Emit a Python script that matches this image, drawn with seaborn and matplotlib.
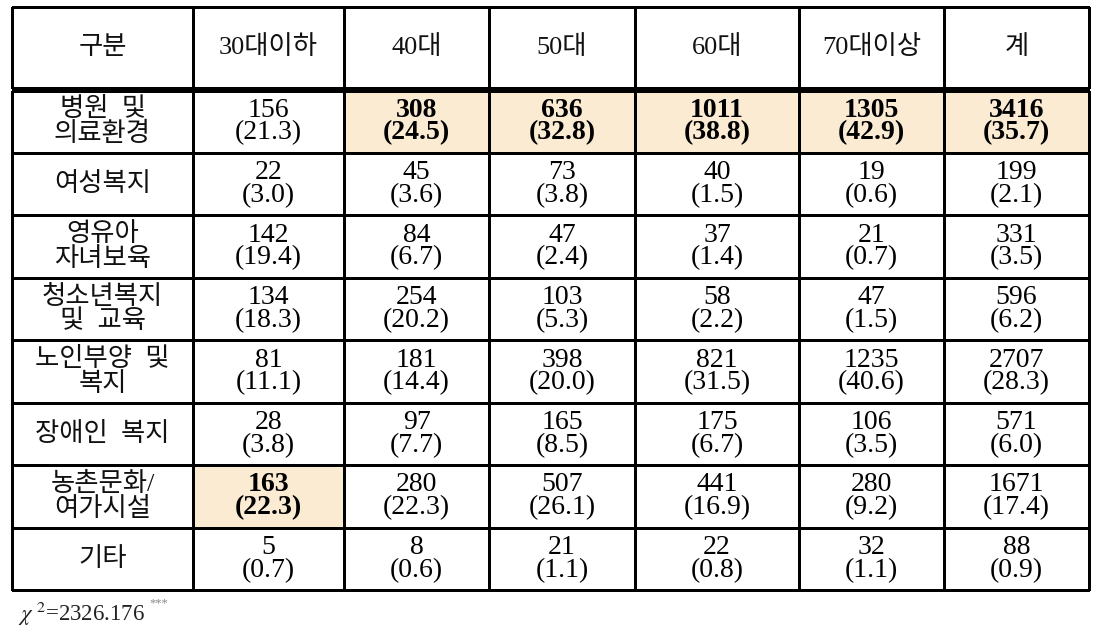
import numpy as np
import pandas as pd
import matplotlib.pyplot as plt
import seaborn as sns
from matplotlib.colors import ListedColormap

# Table data
categories = ['병원  및\n의료환경', '여성복지', '영유아\n자녀보육', '청소년복지\n및  교육',
              '노인부양  및\n복지', '장애인  복지', '농촌문화/\n여가시설', '기타']
age_groups = ['30대이하', '40대', '50대', '60대', '70대이상', '계']
corner_label = '구분'

counts = [
    [156, 308, 636, 1011, 1305, 3416],
    [22, 45, 73, 40, 19, 199],
    [142, 84, 47, 37, 21, 331],
    [134, 254, 103, 58, 47, 596],
    [81, 181, 398, 821, 1235, 2707],
    [28, 97, 165, 175, 106, 571],
    [163, 280, 507, 441, 280, 1671],
    [5, 8, 21, 22, 32, 88],
]
percents = [
    [21.3, 24.5, 32.8, 38.8, 42.9, 35.7],
    [3.0, 3.6, 3.8, 1.5, 0.6, 2.1],
    [19.4, 6.7, 2.4, 1.4, 0.7, 3.5],
    [18.3, 20.2, 5.3, 2.2, 1.5, 6.2],
    [11.1, 14.4, 20.0, 31.5, 40.6, 28.3],
    [3.8, 7.7, 8.5, 6.7, 3.5, 6.0],
    [22.3, 22.3, 26.1, 16.9, 9.2, 17.4],
    [0.7, 0.6, 1.1, 0.8, 1.1, 0.9],
]
chi_square = '2326.176'

cnt = pd.DataFrame(counts, index=categories, columns=age_groups)
pct = pd.DataFrame(percents, index=categories, columns=age_groups)
highlight = (cnt == cnt.max()).astype(int)  # largest count in each column is shaded
cell_text = cnt.astype(str) + '\n(' + pct.map('{:.1f}'.format) + ')'

sns.set_theme(style='white')
plt.rcParams['font.family'] = ['Liberation Serif', 'Noto Sans CJK KR']
plt.rcParams['mathtext.fontset'] = 'stix'

W, H = 1102, 633
fig = plt.figure(figsize=(W / 100, H / 100), dpi=100)

# layout in pixels
col_edges = [12, 193, 344, 489, 635, 799, 944, 1089]
head_top, head_bot = 7, 87.5
body_top, body_bot = 90.5, 590

cmap = ListedColormap(['white', '#fbebd3'])
num_kws = dict(fontsize=20, color='black', linespacing=0.88)
label_kws = dict(fontsize=19, color='#111111', linespacing=1.05, fontweight='light')


def px_axes(x0, y0, x1, y1):
    return fig.add_axes([x0 / W, 1 - y1 / H, (x1 - x0) / W, (y1 - y0) / H])


def draw_cells(ax, shade, labels, kws, bold=None):
    sns.heatmap(shade, annot=labels, fmt='', cmap=cmap, vmin=0, vmax=1, cbar=False,
                xticklabels=False, yticklabels=False, linewidths=0.85, linecolor='black',
                annot_kws=kws, ax=ax)
    ax.collections[0].set_clip_on(False)
    if bold is not None:
        for t, b in zip(ax.texts, bold):
            if b:
                t.set_fontweight('bold')


# label column
ax = px_axes(col_edges[0], head_top, col_edges[1], head_bot)
draw_cells(ax, np.zeros((1, 1)), np.array([[corner_label]]), label_kws)
ax = px_axes(col_edges[0], body_top, col_edges[1], body_bot)
draw_cells(ax, np.zeros((len(categories), 1)), np.array(categories).reshape(-1, 1), label_kws)

# data columns
for j, grp in enumerate(age_groups):
    x0, x1 = col_edges[j + 1], col_edges[j + 2]
    ax = px_axes(x0, head_top, x1, head_bot)
    draw_cells(ax, np.zeros((1, 1)), np.array([[grp]]), label_kws)
    ax = px_axes(x0, body_top, x1, body_bot)
    draw_cells(ax, highlight[[grp]].values, cell_text[[grp]].values, num_kws,
               bold=highlight[grp].values)

fig.text(18 / W, 1 - 621 / H, r'$\chi^{\ 2}$=' + chi_square, fontsize=16.5, color='#222222')
fig.text(149 / W, 1 - 606 / H, '***', fontsize=9, color='#888888')

plt.savefig('out.png', dpi=100)
plt.close()
